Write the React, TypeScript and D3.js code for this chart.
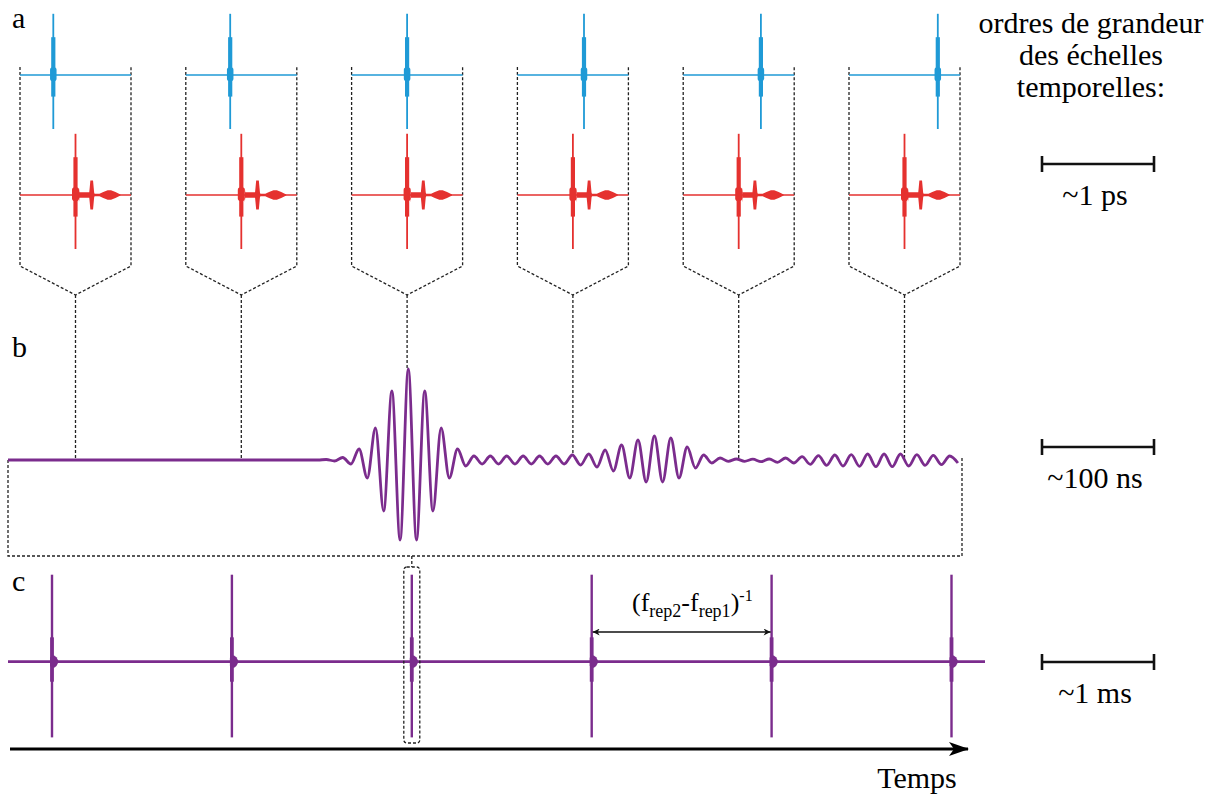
import React from 'react';
import * as d3 from 'd3';

// ---------- DATA ----------
const frames = [0, 1, 2, 3, 4, 5];
// position of the blue (probe) pulse inside each 1 ps frame (fraction of frame)
const probeOffsets = [0.3, 0.4, 0.5, 0.6, 0.7, 0.8];
// position of the red (signal) pulse inside each frame
const signalOffset = 0.5;
// pulse profile (normalised amplitude): thin spike, thick core, blob at baseline
const spikeTop = 1.02, spikeBottom = -0.9;
const coreTop = 0.63, coreBottom = -0.36;
const blobTop = 0.13, blobBottom = -0.1;
// red echo envelope after main pulse: [time offset in frame fraction, half amplitude]
const redEcho: [number, number][] = [
  [0.031, 0.125], [0.036, 0.045], [0.124, 0.045], [0.128, 0.12], [0.134, 0.24],
  [0.158, 0.24], [0.164, 0.12], [0.168, 0.04], [0.172, 0.022], [0.216, 0.02],
  [0.25, 0.05], [0.29, 0.078], [0.32, 0.078], [0.36, 0.05], [0.396, 0.015], [0.405, 0.01],
];

// panel b: interferogram extrema, index = half period, value = amplitude
const interfStartIndex = -10;
const interfExtrema = [
  0.5, -1, 2.5, -4, 11, -18, 32, -51, 69, -80,
  91, -80, 69, -51, 32, -18, 11, -6, 4, -4,
  4, -4, 4, -4, 4, -4, 4, -4, 4, -4,
  5, -5, 6, -7, 10, -11, 15, -18, 20, -22,
  24, -22, 22, -18, 13, -8, 5, -3, 2, -1.3,
  1, -1.3, 0.8, -1.7, 1, -2.3, 2, -3, 3.3, -4.3,
  4.3, -5.3, 5, -6, 5.3, -6.3, 6, -6.7, 6, -6.7,
  6, -6, 5.3, -5.3, 4.7, -4.7, 4, -3,
];
const interfDomain = [-48.8, 67.5];

// panel c: interferogram repetitions (in units of (frep2-frep1)^-1)
const repetitions = [0, 1, 2, 3, 4, 5];
const cSpikeTop = 1, cSpikeBottom = -0.87;
const cCoreTop = 0.28, cCoreBottom = -0.23;
const cEcho: [number, number][] = [[0, 0.07], [0.012, 0.07], [0.025, 0.05], [0.035, 0.01]];
const highlightedRep = 2;

const scaleLabels = ['~1 ps', '~100 ns', '~1 ms'];
const headingLines = ['ordres de grandeur', 'des échelles', 'temporelles:'];

// ---------- STYLE ----------
const BLUE = '#1f9ad6';
const RED = '#e5312f';
const PURPLE = '#7b2c8d';
const FONT = 'Liberation Serif';
const DASH = '3 2';

export default function App() {
  // panel a scales
  const xFrame = d3.scaleLinear().domain([0, 5]).range([20, 849]);
  const xIn = d3.scaleLinear().domain([0, 1]).range([0, 111]);
  const ampA = d3.scaleLinear().domain([0, 1]).range([0, 60]);
  const blueBase = 75, redBase = 195;
  const boxTop = 67, boxBottom = 266, vertexY = 295;

  // panel b scales
  const xB = d3.scaleLinear().domain(interfDomain).range([8, 962]);
  const yB = d3.scaleLinear().domain([-100, 100]).range([560, 360]);
  const bBoxBottom = 556;
  const interfPts: [number, number][] = [[interfDomain[0], 0], [interfStartIndex - 1, 0]];
  interfExtrema.forEach((v, i) => interfPts.push([interfStartIndex + i, v]));
  const interfLine = d3.line<[number, number]>()
    .x(d => xB(d[0])).y(d => yB(d[1])).curve(d3.curveMonotoneX);
  const valueAt = (px: number) => {
    const t = xB.invert(px);
    for (let i = 0; i < interfPts.length - 1; i++) {
      const a = interfPts[i], b = interfPts[i + 1];
      if (t >= a[0] && t <= b[0]) {
        if (Math.abs(t - a[0]) < 0.15) return a[1];
        if (Math.abs(t - b[0]) < 0.15) return b[1];
        return a[1] + (b[1] - a[1]) * (t - a[0]) / (b[0] - a[0]);
      }
    }
    return 0;
  };

  // panel c scales
  const xC = d3.scaleLinear().domain([0, 5]).range([52, 951.5]);
  const xCin = d3.scaleLinear().domain([0, 1]).range([0, 179.9]);
  const ampC = d3.scaleLinear().domain([0, 1]).range([0, 87]);
  const cBase = 661.7;

  const pulse = (x: number, base: number, color: string, amp: (v: number) => number,
    top: number, bottom: number, cTop: number, cBot: number, bTop: number, bBot: number,
    thinW: number, coreW: number, blobW: number, key: string) => (
    <g key={key}>
      <line x1={x} x2={x} y1={base - amp(top)} y2={base - amp(bottom)} stroke={color} strokeWidth={thinW} />
      <line x1={x} x2={x} y1={base - amp(cTop)} y2={base - amp(cBot)} stroke={color} strokeWidth={coreW} />
      <rect x={x - blobW / 2} y={base - amp(bTop)} width={blobW} height={amp(bTop) - amp(bBot)} rx={blobW / 2.5} fill={color} />
    </g>
  );

  const echoArea = (x0: number, base: number, xs: (v: number) => number, amp: (v: number) => number) =>
    d3.area<[number, number]>()
      .x(d => x0 + xs(d[0]))
      .y0(d => base + amp(d[1]))
      .y1(d => base - amp(d[1]))
      .curve(d3.curveLinear);

  const headingX = 1091, barX0 = 1042, barX1 = 1154;
  const barYs = [164, 447, 662];

  // double arrow
  const arrowY = 632;
  const ax0 = xC(3) + 1, ax1 = xC(4) - 1;

  return (
    <svg width={1222} height={796} style={{ position: 'absolute', left: 0, top: 0, background: '#fff' }}>
      <defs>
        <marker id="ah" viewBox="0 0 10 10" refX="10" refY="5" markerWidth="9" markerHeight="7"
          markerUnits="userSpaceOnUse" orient="auto-start-reverse">
          <path d="M0,0 L10,5 L0,10 L3,5 Z" fill="#111" />
        </marker>
        <marker id="axh" viewBox="0 0 20 14" refX="19" refY="7" markerWidth="20" markerHeight="14"
          markerUnits="userSpaceOnUse" orient="auto">
          <path d="M0,0 L20,7 L0,14 L5,7 Z" fill="#000" />
        </marker>
      </defs>

      {/* panel labels */}
      <text x={12} y={28} fontSize={30} fontFamily={FONT}>a</text>
      <text x={12} y={357} fontSize={30} fontFamily={FONT}>b</text>
      <text x={12} y={591} fontSize={30} fontFamily={FONT}>c</text>

      {/* ---------- panel a ---------- */}
      {frames.map((f, i) => {
        const left = xFrame(f);
        const right = left + xIn(1);
        const sigX = left + xIn(signalOffset);
        const probeX = left + xIn(probeOffsets[i]);
        const yConn = yB(valueAt(sigX));
        return (
          <g key={'f' + i}>
            <path d={`M${left},${boxTop} L${left},${boxBottom} L${sigX},${vertexY} L${right},${boxBottom} L${right},${boxTop}`}
              fill="none" stroke="#222" strokeWidth={1.3} strokeDasharray={DASH} />
            <line x1={sigX} x2={sigX} y1={vertexY} y2={yConn} stroke="#222" strokeWidth={1.3} strokeDasharray={DASH} />
            <line x1={left} x2={right} y1={blueBase} y2={blueBase} stroke={BLUE} strokeWidth={1.4} />
            <line x1={left} x2={right} y1={redBase} y2={redBase} stroke={RED} strokeWidth={1.4} />
            {pulse(probeX, blueBase, BLUE, ampA, spikeTop, spikeBottom, coreTop, coreBottom, blobTop, blobBottom, 1.8, 4.2, 6.5, 'b' + i)}
            {pulse(sigX, redBase, RED, ampA, spikeTop, spikeBottom, coreTop, coreBottom, blobTop, blobBottom, 1.8, 4.2, 7, 'r' + i)}
            <path d={echoArea(sigX, redBase, xIn, ampA)(redEcho) || ''} fill={RED} />
          </g>
        );
      })}

      {/* ---------- panel b ---------- */}
      <path d={`M${xB(interfDomain[0])},${yB(0)} L${xB(interfDomain[0])},${bBoxBottom} L${xB(interfDomain[1])},${bBoxBottom} L${xB(interfDomain[1])},${yB(0) - 3}`}
        fill="none" stroke="#222" strokeWidth={1.3} strokeDasharray={DASH} />
      <path d={interfLine(interfPts) || ''} fill="none" stroke={PURPLE} strokeWidth={2.8} strokeLinejoin="round" />

      {/* ---------- panel c ---------- */}
      <line x1={8} x2={985} y1={cBase} y2={cBase} stroke={PURPLE} strokeWidth={2.7} />
      {repetitions.map((r, i) => {
        const x = xC(r);
        return (
          <g key={'c' + i}>
            {pulse(x, cBase, PURPLE, ampC, cSpikeTop, cSpikeBottom, cCoreTop, cCoreBottom, 0.06, -0.06, 2.4, 3.8, 4, 'cp' + i)}
            <path d={echoArea(x, cBase, xCin, ampC)(cEcho) || ''} fill={PURPLE} />
          </g>
        );
      })}
      {/* highlighted repetition */}
      <line x1={xC(highlightedRep)} x2={xC(highlightedRep)} y1={bBoxBottom} y2={567} stroke="#222" strokeWidth={1.3} strokeDasharray={DASH} />
      <rect x={xC(highlightedRep) - 8} y={567} width={16} height={176} rx={3} fill="none" stroke="#222" strokeWidth={1.3} strokeDasharray={DASH} />

      {/* double arrow */}
      <line x1={ax0} x2={ax1} y1={arrowY} y2={arrowY} stroke="#111" strokeWidth={1.3}
        markerStart="url(#ah)" markerEnd="url(#ah)" />
      <text x={632} y={611} fontSize={26} fontFamily={FONT}>
        <tspan>(f</tspan>
        <tspan fontSize={18} dy={6}>rep2</tspan>
        <tspan dy={-6}>-f</tspan>
        <tspan fontSize={18} dy={6}>rep1</tspan>
        <tspan dy={-6}>)</tspan>
        <tspan fontSize={16} dy={-10}>-1</tspan>
      </text>

      {/* time axis */}
      <line x1={10} x2={968} y1={749} y2={749} stroke="#000" strokeWidth={2.8} markerEnd="url(#axh)" />
      <text x={917} y={788} fontSize={30} textAnchor="middle" fontFamily={FONT}>Temps</text>

      {/* ---------- right column ---------- */}
      {headingLines.map((t, i) => (
        <text key={t} x={headingX} y={33 + i * 32} fontSize={30} textAnchor="middle" fontFamily={FONT}>{t}</text>
      ))}
      {barYs.map((y, i) => (
        <g key={'bar' + i}>
          <line x1={barX0} x2={barX1} y1={y} y2={y} stroke="#111" strokeWidth={2.6} />
          <line x1={barX0} x2={barX0} y1={y - 8} y2={y + 8} stroke="#111" strokeWidth={2.6} />
          <line x1={barX1} x2={barX1} y1={y - 8} y2={y + 8} stroke="#111" strokeWidth={2.6} />
          <text x={(barX0 + barX1) / 2 - 3} y={y + 41} fontSize={30} textAnchor="middle" fontFamily={FONT}>{scaleLabels[i]}</text>
        </g>
      ))}
    </svg>
  );
}
